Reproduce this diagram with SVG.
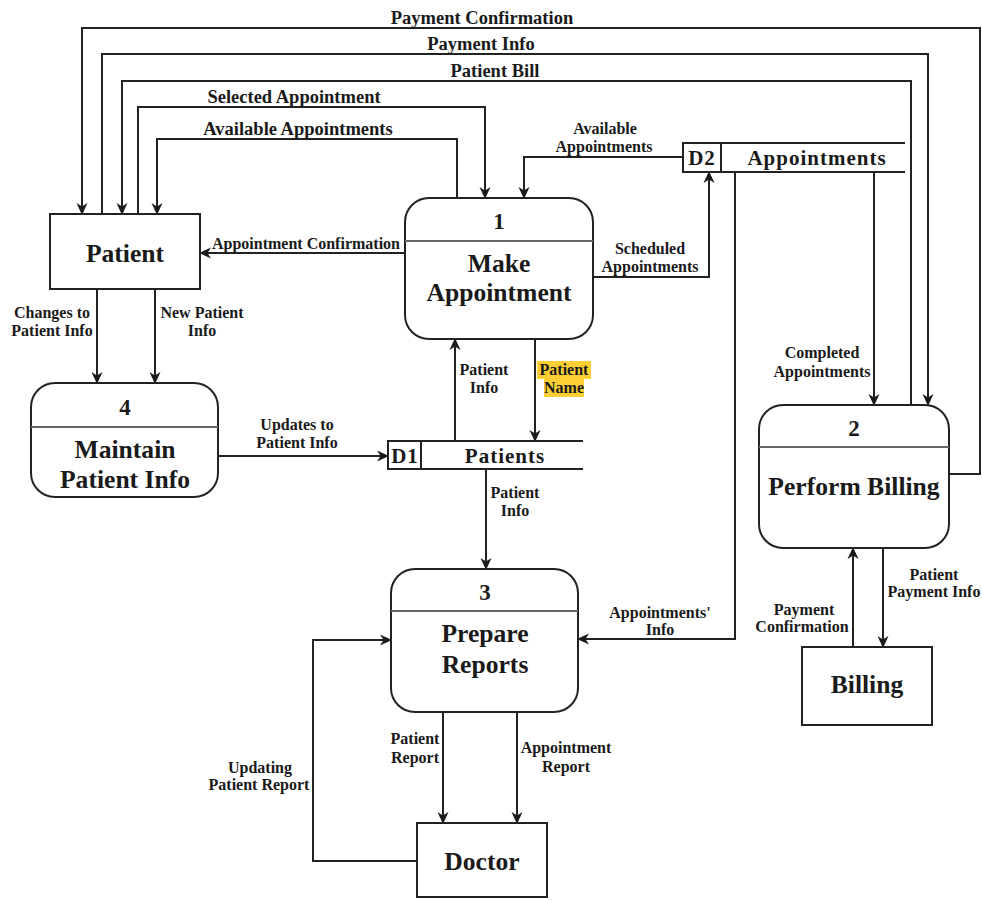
<svg xmlns="http://www.w3.org/2000/svg" width="982" height="900" viewBox="0 0 982 900" font-family="'Liberation Serif', 'DejaVu Serif', serif">
<defs>
<marker id="arr" markerUnits="userSpaceOnUse" markerWidth="12" markerHeight="12" viewBox="0 0 12 12" refX="11" refY="6" orient="auto">
<path d="M0,0.5 L12,6 L0,11.5 L3.5,6 Z" fill="#1a1a1a"/>
</marker>
<style>
.c{fill:none;stroke:#222;stroke-width:2}
.ca{fill:none;stroke:#222;stroke-width:2;marker-end:url(#arr)}
.box{fill:#fff;stroke:#222;stroke-width:2}
.div{stroke:#666;stroke-width:1.8}
.t{font-family:'Liberation Serif','DejaVu Serif',serif;font-weight:bold;fill:#1a1a1a;text-anchor:middle}
.big{font-size:25.6px}
.num{font-size:23px}
.st{font-size:21px;letter-spacing:1px}
.top{font-size:18.5px}
.lb{font-size:16px}
</style>
</defs>
<rect width="982" height="900" fill="#fff"/>

<g id="connectors">
<path class="ca" d="M949,474 H980 V28 H82 V214"/>
<path class="ca" d="M102,214 V54 H928 V405"/>
<path class="ca" d="M911,405 V81 H122 V214"/>
<path class="ca" d="M138,214 V107 H485 V198"/>
<path class="ca" d="M457,198 V139 H157 V214"/>
<path class="ca" d="M683,157 H524 V198"/>
<path class="ca" d="M593,277 H709 V172"/>
<path class="ca" d="M405,253 H200"/>
<path class="ca" d="M97,289 V383"/>
<path class="ca" d="M155,289 V383"/>
<path class="ca" d="M218,456 H388"/>
<path class="ca" d="M455,441 V339"/>
<path class="ca" d="M535,339 V441"/>
<path class="ca" d="M486,469 V569"/>
<path class="ca" d="M735,172 V639 H578"/>
<path class="ca" d="M874,172 V405"/>
<path class="ca" d="M853,647 V548"/>
<path class="ca" d="M883,548 V647"/>
<path class="ca" d="M443,712 V823"/>
<path class="ca" d="M517,712 V823"/>
<path class="ca" d="M417,861 H313 V640 H391"/>
</g>

<g id="labels">
<text class="t top" x="482" y="24">Payment Confirmation</text>
<text class="t top" x="481" y="50">Payment Info</text>
<text class="t top" x="495" y="77">Patient Bill</text>
<text class="t top" x="294" y="103">Selected Appointment</text>
<text class="t top" x="298" y="135">Available Appointments</text>
<text class="t lb" x="605" y="134">Available</text>
<text class="t lb" x="604" y="152">Appointments</text>
<text class="t lb" x="650" y="254">Scheduled</text>
<text class="t lb" x="650" y="272">Appointments</text>
<text class="t lb" x="306" y="249">Appointment Confirmation</text>
<text class="t lb" x="52" y="318">Changes to</text>
<text class="t lb" x="52" y="336">Patient Info</text>
<text class="t lb" x="202" y="318">New Patient</text>
<text class="t lb" x="202" y="336">Info</text>
<text class="t lb" x="297" y="430">Updates to</text>
<text class="t lb" x="297" y="448">Patient Info</text>
<text class="t lb" x="484" y="375">Patient</text>
<text class="t lb" x="484" y="393">Info</text>
<rect x="537" y="361" width="54" height="18" fill="#ffcf33"/>
<rect x="544" y="379" width="40" height="18" fill="#ffcf33"/>
<text class="t lb" x="564" y="375">Patient</text>
<text class="t lb" x="564" y="393">Name</text>
<text class="t lb" x="515" y="498">Patient</text>
<text class="t lb" x="515" y="516">Info</text>
<text class="t lb" x="660" y="618">Appointments'</text>
<text class="t lb" x="660" y="635">Info</text>
<text class="t lb" x="822" y="358">Completed</text>
<text class="t lb" x="822" y="377">Appointments</text>
<text class="t lb" x="804" y="615">Payment</text>
<text class="t lb" x="802" y="632">Confirmation</text>
<text class="t lb" x="934" y="580">Patient</text>
<text class="t lb" x="934" y="597">Payment Info</text>
<text class="t lb" x="415" y="744">Patient</text>
<text class="t lb" x="415" y="763">Report</text>
<text class="t lb" x="566" y="753">Appointment</text>
<text class="t lb" x="566" y="772">Report</text>
<text class="t lb" x="260" y="773">Updating</text>
<text class="t lb" x="259" y="790">Patient Report</text>
</g>

<g id="patient">
<rect class="box" x="50" y="214" width="150" height="75"/>
<text class="t big" x="125" y="262">Patient</text>
</g>

<g id="p1">
<rect class="box" x="405" y="198" width="188" height="141" rx="24"/>
<line class="div" x1="405" y1="241" x2="593" y2="241"/>
<text class="t num" x="499" y="229">1</text>
<text class="t big" x="499" y="272">Make</text>
<text class="t big" x="499" y="301">Appointment</text>
</g>

<g id="p4">
<rect class="box" x="31" y="383" width="187" height="114" rx="24"/>
<line class="div" x1="31" y1="427" x2="218" y2="427"/>
<text class="t num" x="125" y="415">4</text>
<text class="t big" x="125" y="458">Maintain</text>
<text class="t big" x="125" y="488">Patient Info</text>
</g>

<g id="d1">
<rect x="388" y="441" width="33" height="28" fill="#fff" stroke="#222" stroke-width="2"/>
<line class="c" x1="421" y1="441" x2="583" y2="441"/>
<line class="c" x1="421" y1="469" x2="583" y2="469"/>
<text class="t st" x="405" y="463">D1</text>
<text class="t st" x="505" y="463">Patients</text>
</g>

<g id="d2">
<rect x="683" y="143" width="38" height="29" fill="#fff" stroke="#222" stroke-width="2"/>
<line class="c" x1="721" y1="143" x2="905" y2="143"/>
<line class="c" x1="721" y1="172" x2="905" y2="172"/>
<text class="t st" x="702" y="165">D2</text>
<text class="t st" x="817" y="165">Appointments</text>
</g>

<g id="p2">
<rect class="box" x="759" y="405" width="190" height="143" rx="24"/>
<line class="div" x1="759" y1="447" x2="949" y2="447"/>
<text class="t num" x="854" y="436">2</text>
<text class="t big" x="854" y="495">Perform Billing</text>
</g>

<g id="billing">
<rect class="box" x="802" y="647" width="130" height="78"/>
<text class="t big" x="867" y="693">Billing</text>
</g>

<g id="p3">
<rect class="box" x="391" y="569" width="187" height="143" rx="24"/>
<line class="div" x1="391" y1="611" x2="578" y2="611"/>
<text class="t num" x="485" y="600">3</text>
<text class="t big" x="485" y="642">Prepare</text>
<text class="t big" x="485" y="673">Reports</text>
</g>

<g id="doctor">
<rect class="box" x="417" y="823" width="130" height="74"/>
<text class="t big" x="482" y="870">Doctor</text>
</g>
</svg>
